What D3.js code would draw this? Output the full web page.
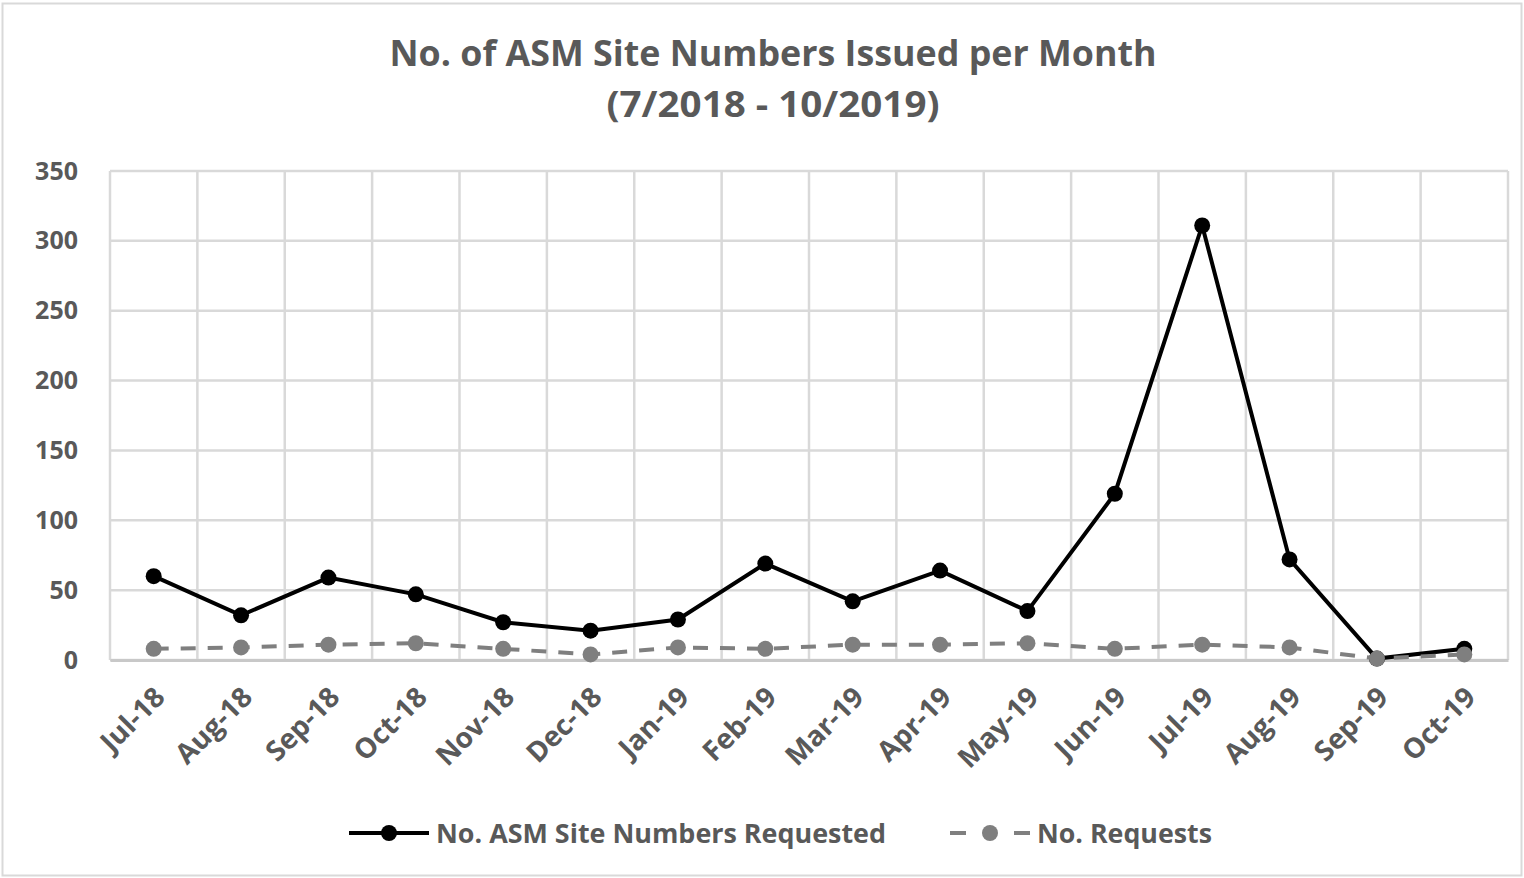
<!DOCTYPE html>
<html>
<head>
<meta charset="utf-8">
<script src="https://cdn.jsdelivr.net/npm/d3@7"></script>
<style>
  body { margin: 0; background: #fff; }
  text { font-family: "Open Sans", "Liberation Sans", sans-serif; fill: #595959; }
</style>
</head>
<body>
<div id="chart"></div>
<script>
const months = ["Jul-18", "Aug-18", "Sep-18", "Oct-18", "Nov-18", "Dec-18", "Jan-19", "Feb-19",
  "Mar-19", "Apr-19", "May-19", "Jun-19", "Jul-19", "Aug-19", "Sep-19", "Oct-19"];
const siteNumbers = [60, 32, 59, 47, 27, 21, 29, 69, 42, 64, 35, 119, 311, 72, 1, 8];
const requests = [8, 9, 11, 12, 8, 4, 9, 8, 11, 11, 12, 8, 11, 9, 1, 4];
const yTicks = [0, 50, 100, 150, 200, 250, 300, 350];

const W = 1524, H = 878;
const margin = { top: 171, right: 16, bottom: 218, left: 110 };
const width = W - margin.left - margin.right;
const height = H - margin.top - margin.bottom;

const svg = d3.select("#chart").append("svg")
  .attr("width", W)
  .attr("height", H);

// outer chart border
svg.append("rect")
  .attr("x", 2.5).attr("y", 3.5)
  .attr("width", W - 5).attr("height", H - 6)
  .attr("fill", "none")
  .attr("stroke", "#d9d9d9")
  .attr("stroke-width", 2);

svg.append("text")
  .attr("x", 773).attr("y", 66)
  .attr("text-anchor", "middle")
  .attr("font-size", 35).attr("font-weight", 700)
  .attr("textLength", 767).attr("lengthAdjust", "spacingAndGlyphs")
  .text("No. of ASM Site Numbers Issued per Month");
svg.append("text")
  .attr("x", 773).attr("y", 117)
  .attr("text-anchor", "middle")
  .attr("font-size", 35).attr("font-weight", 700)
  .attr("textLength", 333).attr("lengthAdjust", "spacingAndGlyphs")
  .text("(7/2018 - 10/2019)");

const g = svg.append("g")
  .attr("transform", "translate(" + margin.left + "," + margin.top + ")");

const x = d3.scaleBand().domain(months).range([0, width]);
const y = d3.scaleLinear().domain([0, 350]).range([height, 0]);

// gridlines
g.append("g")
  .selectAll("line")
  .data(yTicks)
  .join("line")
  .attr("x1", 0).attr("x2", width)
  .attr("y1", d => y(d)).attr("y2", d => y(d))
  .attr("stroke", "#d9d9d9").attr("stroke-width", 2.5);

g.append("g")
  .selectAll("line")
  .data(months.concat(["end"]))
  .join("line")
  .attr("x1", (d, i) => i * x.bandwidth()).attr("x2", (d, i) => i * x.bandwidth())
  .attr("y1", 0).attr("y2", height)
  .attr("stroke", "#d9d9d9").attr("stroke-width", 2.5);

// y axis labels
const yAxis = g.append("g")
  .call(d3.axisLeft(y).tickValues(yTicks).tickSize(0).tickPadding(32));
yAxis.select(".domain").remove();
yAxis.selectAll("text")
  .attr("font-size", 25).attr("font-weight", 700)
  .attr("fill", "#595959")
  .attr("font-family", "Open Sans");

// x axis labels
const xAxis = g.append("g")
  .attr("transform", "translate(0," + height + ")")
  .call(d3.axisBottom(x).tickSize(0).tickPadding(0));
xAxis.select(".domain")
  .attr("stroke", "#c8c8c8").attr("stroke-width", 3);
xAxis.selectAll("text")
  .attr("font-size", 28).attr("font-weight", 700)
  .attr("fill", "#595959")
  .attr("font-family", "Open Sans")
  .attr("text-anchor", "end")
  .attr("dy", "0.35em")
  .attr("transform", "translate(6,32) rotate(-45)");

const cx = d => x(d) + x.bandwidth() / 2;

// site numbers (solid black)
g.append("path")
  .datum(siteNumbers)
  .attr("fill", "none")
  .attr("stroke", "#000")
  .attr("stroke-width", 4)
  .attr("d", d3.line().x((d, i) => cx(months[i])).y(d => y(d)));

g.append("g")
  .selectAll("circle")
  .data(siteNumbers)
  .join("circle")
  .attr("cx", (d, i) => cx(months[i]))
  .attr("cy", d => y(d))
  .attr("r", 8)
  .attr("fill", "#000");

// requests (dashed gray), drawn on top like the second series
g.append("path")
  .datum(requests)
  .attr("fill", "none")
  .attr("stroke", "#7f7f7f")
  .attr("stroke-width", 4)
  .attr("stroke-dasharray", "15,12")
  .attr("d", d3.line().x((d, i) => cx(months[i])).y(d => y(d)));

g.append("g")
  .selectAll("circle")
  .data(requests)
  .join("circle")
  .attr("cx", (d, i) => cx(months[i]))
  .attr("cy", d => y(d))
  .attr("r", 8)
  .attr("fill", "#7f7f7f");

// legend
const legend = svg.append("g");
legend.append("line")
  .attr("x1", 349).attr("x2", 429).attr("y1", 833).attr("y2", 833)
  .attr("stroke", "#000").attr("stroke-width", 4);
legend.append("circle")
  .attr("cx", 389).attr("cy", 833).attr("r", 8).attr("fill", "#000");
legend.append("text")
  .attr("x", 436).attr("y", 843)
  .attr("font-size", 27).attr("font-weight", 700)
  .attr("textLength", 450).attr("lengthAdjust", "spacingAndGlyphs")
  .text("No. ASM Site Numbers Requested");

legend.append("line")
  .attr("x1", 950).attr("x2", 1030).attr("y1", 833).attr("y2", 833)
  .attr("stroke", "#7f7f7f").attr("stroke-width", 4)
  .attr("stroke-dasharray", "16,48");
legend.append("circle")
  .attr("cx", 990).attr("cy", 833).attr("r", 8).attr("fill", "#7f7f7f");
legend.append("text")
  .attr("x", 1037).attr("y", 843)
  .attr("font-size", 27).attr("font-weight", 700)
  .attr("textLength", 175).attr("lengthAdjust", "spacingAndGlyphs")
  .text("No. Requests");
</script>
</body>
</html>
